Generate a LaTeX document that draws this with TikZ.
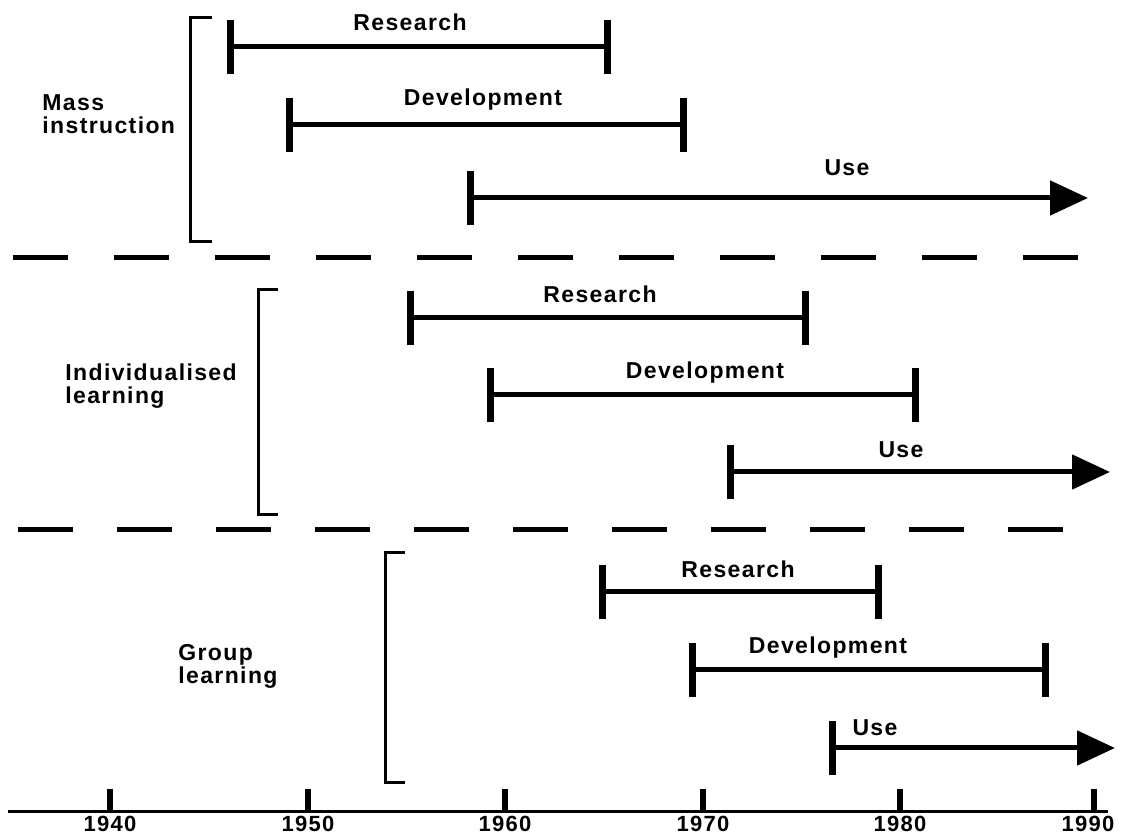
\documentclass[tikz,border=0pt]{standalone}
\usepackage{fontspec}
\newfontfamily\lblfont{Liberation Sans}[LetterSpace=6]
\usetikzlibrary{arrows.meta,calc}
\begin{document}
\begin{tikzpicture}[x=0.5pt,y=-0.5pt,
  lbl/.style={font=\lblfont\bfseries\fontsize{11.5pt}{11.5pt}\selectfont, inner sep=0pt},
  yrlbl/.style={font=\lblfont\bfseries\fontsize{11pt}{11pt}\selectfont, inner sep=0pt, anchor=north},
  grp/.style={lbl, align=left, anchor=west},
  bar/.style={line width=2.5pt},
  endtick/.style={line width=3.5pt},
  brk/.style={line width=1.5pt},
  sep/.style={line width=2.5pt, dash pattern=on 27.5pt off 23pt},
  usearrow/.style={bar, -{Triangle[length=19pt,width=17pt]}},
  axis/.style={line width=1.5pt},
  axtick/.style={line width=3pt},
]
\useasboundingbox (0,0) rectangle (1121,838);

% group brackets
\coordinate (b1t) at (212,18); \coordinate (b1b) at (212,242);
\draw[brk] (b1t) -| (190,242) -- (b1b);
\coordinate (b2t) at (278,290); \coordinate (b2b) at (278,515);
\draw[brk] (b2t) -| (258,515) -- (b2b);
\coordinate (b3t) at (405,553); \coordinate (b3b) at (405,783);
\draw[brk] (b3t) -| (385,783) -- (b3b);

% group labels
\node[grp] (g1) at (42,114) {Mass\\instruction};
\node[grp] (g2) at (65,386) {Individualised\\learning};
\node[grp] (g3) at (178,666) {Group\\learning};

% separators
\coordinate (s1a) at (13,258); \coordinate (s1b) at (1080,258);
\draw[sep] (s1a) -- (s1b);
\coordinate (s2a) at (18,530); \coordinate (s2b) at (1065,530);
\draw[sep, dash pattern=on 27.5pt off 22pt] (s2a) -- (s2b);

% research / development bars
\foreach \n/\xa/\xb/\y in {r1/230/607/47, d1/289/683/125, r2/410/805/318, d2/490/915/395, r3/602/878/592, d3/692/1045/670} {
  \coordinate (\n a) at (\xa,\y);
  \coordinate (\n b) at (\xb,\y);
  \draw[bar] (\n a) -- (\n b);
  \draw[endtick] ($(\n a)+(0,-27)$) -- ($(\n a)+(0,27)$);
  \draw[endtick] ($(\n b)+(0,-27)$) -- ($(\n b)+(0,27)$);
}
% use arrows
\foreach \n/\xa/\xb/\y in {u1/470/1088/198, u2/730/1110/472, u3/832/1115/748} {
  \coordinate (\n a) at (\xa,\y);
  \coordinate (\n b) at (\xb,\y);
  \draw[usearrow] (\n a) -- (\n b);
  \draw[endtick] ($(\n a)+(0,-27)$) -- ($(\n a)+(0,27)$);
}

% bar labels
\node[lbl] (r1l) at (410,22) {Research};
\node[lbl] (d1l) at (483,100) {Development};
\node[lbl] (u1l) at (847,168) {Use};
\node[lbl] (r2l) at (600,294) {Research};
\node[lbl] (d2l) at (705,373) {Development};
\node[lbl] (u2l) at (901,450) {Use};
\node[lbl] (r3l) at (738,569) {Research};
\node[lbl] (d3l) at (828,648) {Development};
\node[lbl] (u3l) at (875,728) {Use};

% axis
\coordinate (ax0) at (8,812); \coordinate (ax1) at (1108,812);
\draw[axis] (ax0) -- (ax1);
\foreach \yr/\x/\lx in {1940/110/110, 1950/308/308, 1960/505/505, 1970/703/703, 1980/900/900, 1990/1094/1088} {
  \coordinate (t\yr) at (\x,812);
  \draw[axtick] (t\yr) -- ++(0,-23);
  \node[yrlbl] (l\yr) at (\lx,816) {\yr};
}
\end{tikzpicture}
\end{document}
